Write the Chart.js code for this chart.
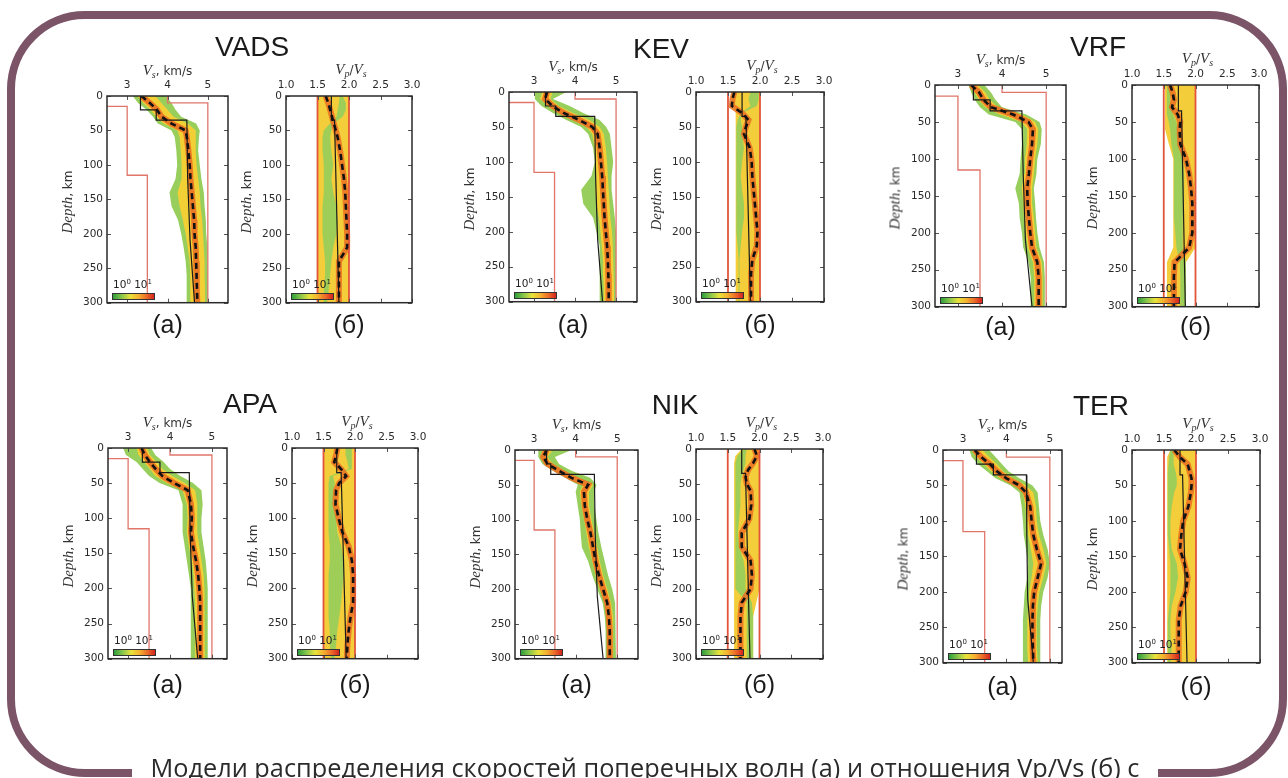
<!DOCTYPE html>
<html><head><meta charset="utf-8">
<script src="https://cdn.jsdelivr.net/npm/chart.js@4.4.1/dist/chart.umd.min.js"></script>
<style>
html,body{margin:0;padding:0;background:#fff;width:1288px;height:778px;overflow:hidden;}
#root{position:absolute;left:0;top:0;width:1288px;height:778px;}
#frame{position:absolute;left:7px;top:11px;width:1280px;height:766px;box-sizing:border-box;border:8px solid #7b5468;border-radius:78px;}
#capbox{position:absolute;left:132px;top:752px;width:1026px;height:30px;background:#fff;text-align:center;}
#caption{font-family:"Open Sans","Noto Sans",sans-serif;font-size:25.3px;color:#2b2b2b;line-height:31px;white-space:nowrap;}
.lbl{position:absolute;transform:translate(-50%,-50%);white-space:nowrap;line-height:1;color:#222;}
.title{font-family:"Liberation Sans",Arial,sans-serif;font-size:28px;color:#1a1a1a;}
.sub{font-family:"Liberation Sans",Arial,sans-serif;font-size:25px;color:#1a1a1a;}
.ax{font-family:"DejaVu Sans",sans-serif;font-size:12px;color:#333;}
.mi{font-family:"Liberation Serif",serif;font-style:italic;font-size:15px;}
.ax sub{font-family:"Liberation Serif",serif;font-style:italic;font-size:10px;vertical-align:-3px;}
.cbl{position:absolute;font-family:"DejaVu Sans",sans-serif;font-size:10.5px;color:#222;white-space:nowrap;line-height:1;}
.cbl sup{font-size:7px;vertical-align:4px;}
.cbar{position:absolute;width:43px;height:7px;border:1px solid #333;box-sizing:border-box;
 background:linear-gradient(to right,#2f9e3c 0%,#8cc84b 22%,#e9e23a 42%,#f5b22f 62%,#ec6a28 82%,#d4241c 100%);}
canvas{position:absolute;}
</style></head>
<body>
<div id="root"></div>
<div id="frame"></div>
<div id="capbox"><span id="caption">Модели распределения скоростей поперечных волн (а) и отношения Vp/Vs (б) с</span></div>
<script>
// ---------- tick labels ----------
const DEPTH_TICKS = [0, 50, 100, 150, 200, 250, 300];
const VS_TICKS = [3, 4, 5];
const RATIO_TICKS = [1.0, 1.5, 2.0, 2.5, 3.0];

// ---------- common depth grid (km) ----------
const DEPTH = [0, 10, 20, 30, 40, 50, 60, 80, 100, 120, 140, 160, 180, 200, 220, 240, 260, 280, 300];

// ---------- prior bounds ----------
const VS_MIN_DEPTH = [15, 15, 115, 115, 300];
const VS_MIN = [2.0, 3.0, 3.0, 3.5, 3.5];
const VS_MAX_DEPTH = [0, 10, 10, 300];
const VS_MAX = [4.0, 4.0, 5.0, 5.0];
const RATIO_BOUND_DEPTH = [0, 300];
const RATIO_MIN = [1.5, 1.5];
const RATIO_MAX = [2.0, 2.0];

// ---------- reference models ----------
const REF_VS_DEPTH = [0, 20, 20, 35, 35, 120, 210, 300];
const REF_RATIO_DEPTH = [0, 35, 35, 300];

// ================= VADS =================
const VADS_A_MEAN = [3.35,3.56,3.74,3.85,4.10,4.45,4.48,4.52,4.55,4.57,4.60,4.63,4.66,4.67,4.70,4.71,4.72,4.73,4.74];
const VADS_A_GLO  = [3.14,3.27,3.48,3.64,3.76,4.10,4.18,4.22,4.24,4.20,4.05,4.10,4.26,4.34,4.40,4.45,4.47,4.48,4.48];
const VADS_A_GHI  = [3.97,4.10,4.20,4.34,4.71,4.80,4.78,4.76,4.80,4.84,4.90,4.92,4.95,4.96,4.99,5.00,5.00,5.00,5.00];
const VADS_A_YLO  = [3.25,3.40,3.58,3.72,3.90,4.25,4.30,4.33,4.35,4.35,4.25,4.30,4.38,4.45,4.50,4.55,4.56,4.57,4.57];
const VADS_A_YHI  = [3.70,3.85,4.00,4.15,4.50,4.70,4.70,4.70,4.72,4.76,4.80,4.82,4.86,4.88,4.90,4.92,4.92,4.93,4.93];
const VADS_A_REF  = [3.33,3.33,3.72,3.72,4.48,4.50,4.56,4.67];
const VADS_B_MEAN = [1.63,1.67,1.70,1.73,1.76,1.79,1.82,1.86,1.89,1.92,1.94,1.95,1.96,1.97,1.97,1.84,1.84,1.84,1.84];
const VADS_B_LO   = [1.50,1.50,1.50,1.50,1.50,1.50,1.50,1.50,1.50,1.50,1.50,1.50,1.50,1.50,1.50,1.50,1.50,1.50,1.50];
const VADS_B_HI   = [2.00,2.00,2.00,2.00,2.00,2.00,2.00,2.00,2.00,2.00,2.00,2.00,2.00,2.00,2.00,2.00,2.00,2.00,2.00];
const VADS_B_GLO  = [1.85,1.84,1.82,1.80,1.70,1.60,1.58,1.58,1.60,1.60,1.60,1.58,1.58,1.58,1.60,1.62,1.62,1.60,1.60];
const VADS_B_GHI  = [1.90,1.95,1.95,1.90,1.75,1.72,1.70,1.72,1.75,1.72,1.75,1.80,1.82,1.80,1.75,1.72,1.70,1.68,1.65];
const VADS_B_REF  = [1.72,1.72,1.77,1.84];

// ================= KEV =================
const KEV_A_MEAN = [3.32,3.27,3.45,3.72,4.10,4.42,4.55,4.60,4.63,4.66,4.68,4.70,4.72,4.75,4.78,4.80,4.81,4.82,4.82];
const KEV_A_GLO  = [3.02,3.02,3.18,3.46,3.79,4.15,4.32,4.44,4.48,4.40,4.15,4.20,4.44,4.52,4.60,4.60,4.60,4.60,4.60];
const KEV_A_GHI  = [3.79,3.46,3.87,4.20,4.60,4.76,4.85,4.89,4.93,4.89,4.89,4.93,4.97,5.00,5.00,5.00,5.00,5.00,5.00];
const KEV_A_YLO  = [3.20,3.15,3.33,3.60,3.95,4.28,4.42,4.48,4.50,4.52,4.50,4.52,4.58,4.62,4.65,4.68,4.68,4.70,4.70];
const KEV_A_YHI  = [3.45,3.40,3.60,3.95,4.35,4.60,4.70,4.75,4.78,4.80,4.82,4.84,4.86,4.90,4.92,4.93,4.94,4.95,4.95];
const KEV_A_REF  = [3.28,3.28,3.53,3.53,4.48,4.50,4.55,4.67];
const KEV_B_MEAN = [1.60,1.57,1.56,1.72,1.82,1.78,1.75,1.84,1.87,1.88,1.90,1.92,1.94,1.96,1.95,1.88,1.86,1.86,1.86];
const KEV_B_LO   = [1.55,1.55,1.58,1.62,1.62,1.62,1.62,1.62,1.62,1.62,1.62,1.62,1.62,1.62,1.62,1.62,1.62,1.62,1.62];
const KEV_B_HI   = [2.00,2.00,2.00,2.00,2.00,2.00,2.00,2.00,2.00,2.00,2.00,2.00,2.00,2.00,2.00,2.00,2.00,2.00,2.00];
const KEV_B_GLO  = [1.85,1.82,1.85,1.70,1.65,1.63,1.63,1.63,1.63,1.63,1.63,1.63,1.63,1.63,1.65,1.66,1.67,1.67,1.67];
const KEV_B_GHI  = [1.98,1.98,1.95,1.72,1.70,1.72,1.72,1.75,1.72,1.70,1.72,1.75,1.75,1.72,1.70,1.68,1.68,1.68,1.68];
const KEV_B_REF  = [1.72,1.72,1.78,1.85];

// ================= VRF =================
const VRF_A_MEAN = [3.30,3.48,3.58,3.75,4.25,4.60,4.70,4.68,4.64,4.61,4.57,4.58,4.61,4.64,4.68,4.80,4.83,4.83,4.83];
const VRF_A_GLO  = [3.24,3.30,3.38,3.50,3.70,4.30,4.45,4.45,4.42,4.40,4.30,4.38,4.40,4.45,4.48,4.60,4.65,4.65,4.65];
const VRF_A_GHI  = [3.60,3.75,3.85,4.00,4.55,4.85,4.90,4.88,4.80,4.78,4.72,4.75,4.77,4.80,4.85,4.95,4.97,4.97,4.97];
const VRF_A_YLO  = [3.27,3.38,3.47,3.62,3.95,4.45,4.57,4.56,4.52,4.50,4.45,4.48,4.50,4.54,4.58,4.70,4.73,4.73,4.73];
const VRF_A_YHI  = [3.45,3.62,3.72,3.90,4.45,4.75,4.82,4.80,4.75,4.72,4.68,4.68,4.72,4.75,4.78,4.90,4.92,4.92,4.92];
const VRF_A_REF  = [3.35,3.35,3.73,3.73,4.45,4.48,4.53,4.68];
const VRF_B_MEAN = [1.60,1.64,1.66,1.63,1.72,1.76,1.75,1.76,1.85,1.90,1.93,1.95,1.95,1.95,1.90,1.67,1.66,1.66,1.66];
const VRF_B_LO   = [1.52,1.52,1.52,1.52,1.52,1.52,1.52,1.58,1.65,1.65,1.65,1.65,1.65,1.65,1.65,1.55,1.55,1.55,1.55];
const VRF_B_HI   = [2.00,2.00,2.00,2.00,2.00,2.00,2.00,2.00,2.00,2.00,2.00,2.00,2.00,2.00,2.00,1.85,1.85,1.85,1.85];
const VRF_B_GLO  = [1.55,1.55,1.55,1.55,1.55,1.58,1.60,1.62,1.66,1.66,1.66,1.66,1.66,1.68,1.70,1.75,1.76,1.76,1.76];
const VRF_B_GHI  = [1.58,1.60,1.60,1.62,1.65,1.70,1.72,1.75,1.80,1.82,1.82,1.82,1.80,1.80,1.80,1.85,1.85,1.85,1.85];
const VRF_B_REF  = [1.73,1.73,1.78,1.84];

// ================= APA =================
const APA_A_MEAN = [3.32,3.40,3.52,3.66,3.82,4.10,4.42,4.50,4.52,4.50,4.55,4.62,4.67,4.70,4.72,4.72,4.72,4.72,4.72];
const APA_A_GLO  = [2.88,2.95,3.20,3.35,3.50,3.75,4.20,4.30,4.30,4.30,4.35,4.40,4.45,4.48,4.50,4.50,4.50,4.50,4.50];
const APA_A_GHI  = [3.55,3.65,3.85,4.00,4.25,4.55,4.75,4.78,4.75,4.75,4.80,4.85,4.88,4.90,4.90,4.90,4.90,4.90,4.90];
const APA_A_YLO  = [3.20,3.25,3.38,3.52,3.65,3.92,4.30,4.40,4.42,4.40,4.45,4.52,4.56,4.58,4.60,4.60,4.60,4.60,4.60];
const APA_A_YHI  = [3.45,3.52,3.68,3.82,4.05,4.35,4.60,4.65,4.65,4.65,4.70,4.75,4.80,4.82,4.83,4.83,4.83,4.83,4.83];
const APA_A_REF  = [3.34,3.34,3.76,3.76,4.46,4.48,4.53,4.66];
const APA_B_MEAN = [1.72,1.70,1.67,1.78,1.86,1.75,1.70,1.69,1.74,1.80,1.90,1.95,1.97,1.97,1.97,1.93,1.90,1.88,1.87];
const APA_B_LO   = [1.50,1.50,1.50,1.50,1.50,1.50,1.50,1.50,1.50,1.50,1.50,1.50,1.50,1.50,1.50,1.50,1.50,1.50,1.50];
const APA_B_HI   = [2.00,2.00,2.00,2.00,2.00,2.00,2.00,2.00,2.00,2.00,2.00,2.00,2.00,2.00,2.00,2.00,2.00,2.00,2.00];
const APA_B_GLO  = [1.85,1.85,1.88,1.90,1.60,1.58,1.58,1.58,1.58,1.58,1.60,1.60,1.58,1.58,1.58,1.58,1.60,1.60,1.62];
const APA_B_GHI  = [1.95,1.95,1.95,1.95,1.65,1.68,1.66,1.65,1.70,1.72,1.78,1.82,1.82,1.80,1.78,1.75,1.72,1.70,1.68];
const APA_B_REF  = [1.71,1.71,1.78,1.86];

// ================= NIK =================
const NIK_A_MEAN = [3.30,3.22,3.32,3.60,3.90,4.30,4.20,4.22,4.28,4.36,4.42,4.48,4.56,4.66,4.76,4.80,4.82,4.82,4.82];
const NIK_A_GLO  = [3.10,3.10,3.20,3.45,3.75,4.05,4.00,4.05,4.10,4.12,4.15,4.30,4.40,4.52,4.65,4.70,4.72,4.72,4.72];
const NIK_A_GHI  = [3.90,3.50,3.60,3.90,4.35,4.50,4.45,4.45,4.50,4.55,4.62,4.70,4.78,4.88,4.95,4.97,4.97,4.97,4.97];
const NIK_A_YLO  = [3.20,3.15,3.25,3.52,3.82,4.18,4.10,4.14,4.20,4.26,4.32,4.40,4.48,4.58,4.70,4.74,4.76,4.76,4.76];
const NIK_A_YHI  = [3.45,3.32,3.45,3.72,4.05,4.42,4.32,4.32,4.38,4.45,4.52,4.58,4.66,4.76,4.85,4.90,4.90,4.90,4.90];
const NIK_A_REF  = [3.30,3.30,3.40,3.40,4.45,4.47,4.52,4.66];
const NIK_B_MEAN = [1.92,1.96,1.90,1.82,1.78,1.80,1.86,1.87,1.84,1.72,1.72,1.86,1.88,1.86,1.72,1.70,1.70,1.70,1.70];
const NIK_B_LO   = [1.72,1.62,1.60,1.60,1.60,1.60,1.60,1.60,1.60,1.60,1.60,1.60,1.60,1.60,1.60,1.60,1.60,1.60,1.60];
const NIK_B_HI   = [2.00,2.00,2.00,2.00,2.00,2.00,2.00,2.00,2.00,2.00,2.00,2.00,2.00,2.00,1.95,1.90,1.90,1.90,1.90];
const NIK_B_GLO  = [1.75,1.65,1.62,1.62,1.62,1.62,1.62,1.62,1.62,1.62,1.62,1.62,1.62,1.62,1.80,1.80,1.80,1.80,1.80];
const NIK_B_GHI  = [1.80,1.78,1.78,1.75,1.72,1.70,1.70,1.70,1.68,1.66,1.68,1.75,1.78,1.78,1.88,1.90,1.90,1.90,1.90];
const NIK_B_REF  = [1.72,1.72,1.78,1.85];

// ================= TER =================
const TER_A_MEAN = [3.27,3.42,3.62,3.78,4.00,4.30,4.45,4.55,4.58,4.62,4.70,4.80,4.72,4.64,4.61,4.60,4.60,4.61,4.62];
const TER_A_GLO  = [3.15,3.20,3.35,3.55,3.75,4.10,4.30,4.35,4.38,4.40,4.45,4.50,4.48,4.42,4.40,4.38,4.38,4.38,4.38];
const TER_A_GHI  = [3.60,3.75,3.90,4.05,4.30,4.60,4.72,4.75,4.78,4.85,4.95,5.00,4.95,4.85,4.80,4.78,4.78,4.78,4.78];
const TER_A_YLO  = [3.20,3.30,3.48,3.65,3.85,4.20,4.38,4.44,4.46,4.50,4.56,4.62,4.58,4.52,4.50,4.48,4.48,4.48,4.50];
const TER_A_YHI  = [3.45,3.60,3.78,3.92,4.15,4.45,4.62,4.68,4.70,4.75,4.85,4.92,4.85,4.76,4.72,4.70,4.70,4.70,4.72];
const TER_A_REF  = [3.31,3.31,3.70,3.70,4.46,4.47,4.49,4.62];
const TER_B_MEAN = [1.66,1.75,1.87,1.90,1.93,1.93,1.92,1.88,1.80,1.77,1.75,1.82,1.87,1.84,1.76,1.73,1.73,1.73,1.73];
const TER_B_LO   = [1.60,1.55,1.55,1.55,1.55,1.55,1.55,1.55,1.55,1.55,1.55,1.55,1.55,1.55,1.55,1.55,1.55,1.55,1.55];
const TER_B_HI   = [2.00,2.00,2.00,2.00,2.00,2.00,2.00,2.00,2.00,2.00,2.00,2.00,2.00,2.00,2.00,2.00,2.00,2.00,2.00];
const TER_B_GLO  = [1.60,1.58,1.57,1.56,1.56,1.56,1.56,1.56,1.56,1.56,1.58,1.60,1.60,1.60,1.58,1.56,1.56,1.56,1.56];
const TER_B_GHI  = [1.65,1.65,1.65,1.68,1.70,1.70,1.66,1.62,1.60,1.60,1.62,1.70,1.72,1.68,1.62,1.60,1.60,1.62,1.60];
const TER_B_REF  = [1.75,1.75,1.79,1.86];

// ---------- layout ----------
const STATIONS = [
 {name:'VADS', tx:252, ty:47,  subY:324,
  a:{left:107,right:228,top:96,bottom:307,xMin:2.5,xMax:5.5, mean:VADS_A_MEAN,gLo:VADS_A_GLO,gHi:VADS_A_GHI,yLo:VADS_A_YLO,yHi:VADS_A_YHI,ref:VADS_A_REF},
  b:{left:286,right:412,top:96,bottom:307, mean:VADS_B_MEAN,lo:VADS_B_LO,hi:VADS_B_HI,gLo:VADS_B_GLO,gHi:VADS_B_GHI,ref:VADS_B_REF}},
 {name:'KEV', tx:661, ty:49, subY:324,
  a:{left:509,right:637,top:92,bottom:306,xMin:2.39,xMax:5.51, mean:KEV_A_MEAN,gLo:KEV_A_GLO,gHi:KEV_A_GHI,yLo:KEV_A_YLO,yHi:KEV_A_YHI,ref:KEV_A_REF},
  b:{left:696,right:824,top:92,bottom:306, mean:KEV_B_MEAN,lo:KEV_B_LO,hi:KEV_B_HI,gLo:KEV_B_GLO,gHi:KEV_B_GHI,ref:KEV_B_REF}},
 {name:'VRF', tx:1098, ty:47, subY:326,
  a:{left:935,right:1066,top:85,bottom:311,xMin:2.48,xMax:5.45, mean:VRF_A_MEAN,gLo:VRF_A_GLO,gHi:VRF_A_GHI,yLo:VRF_A_YLO,yHi:VRF_A_YHI,ref:VRF_A_REF},
  b:{left:1132,right:1259,top:85,bottom:311, mean:VRF_B_MEAN,lo:VRF_B_LO,hi:VRF_B_HI,gLo:VRF_B_GLO,gHi:VRF_B_GHI,ref:VRF_B_REF}},
 {name:'APA', tx:250, ty:404, subY:684,
  a:{left:108,right:227,top:448,bottom:663,xMin:2.52,xMax:5.36, mean:APA_A_MEAN,gLo:APA_A_GLO,gHi:APA_A_GHI,yLo:APA_A_YLO,yHi:APA_A_YHI,ref:APA_A_REF},
  b:{left:292,right:418,top:448,bottom:663, mean:APA_B_MEAN,lo:APA_B_LO,hi:APA_B_HI,gLo:APA_B_GLO,gHi:APA_B_GHI,ref:APA_B_REF}},
 {name:'NIK', tx:675, ty:405, subY:684,
  a:{left:515,right:638,top:450,bottom:663,xMin:2.54,xMax:5.5, mean:NIK_A_MEAN,gLo:NIK_A_GLO,gHi:NIK_A_GHI,yLo:NIK_A_YLO,yHi:NIK_A_YHI,ref:NIK_A_REF},
  b:{left:696,right:823,top:449,bottom:663, mean:NIK_B_MEAN,lo:NIK_B_LO,hi:NIK_B_HI,gLo:NIK_B_GLO,gHi:NIK_B_GHI,ref:NIK_B_REF}},
 {name:'TER', tx:1101, ty:406, subY:686,
  a:{left:943,right:1062,top:450,bottom:667,xMin:2.54,xMax:5.28, mean:TER_A_MEAN,gLo:TER_A_GLO,gHi:TER_A_GHI,yLo:TER_A_YLO,yHi:TER_A_YHI,ref:TER_A_REF},
  b:{left:1132,right:1260,top:450,bottom:667, mean:TER_B_MEAN,lo:TER_B_LO,hi:TER_B_HI,gLo:TER_B_GLO,gHi:TER_B_GHI,ref:TER_B_REF}}
];

const root = document.getElementById('root');
const AXW = 56, AXH = 40, PR = 14, PB = 6;

function pts(depths, vals){ return vals.map((v,i)=>({x:v, y:depths[i]})); }
function lbl(html, x, y, cls, rot){
  const d = document.createElement('div');
  d.className = 'lbl ' + cls; d.innerHTML = html;
  d.style.left = x + 'px'; d.style.top = y + 'px';
  if (rot) d.style.transform = 'translate(-50%,-50%) rotate(-90deg)';
  root.appendChild(d);
}
function colorbar(p){
  const c = document.createElement('div'); c.className = 'cbl';
  c.innerHTML = '10<sup>0</sup>&nbsp;10<sup>1</sup>';
  c.style.left = (p.left + 6) + 'px'; c.style.top = (p.bottom - 28) + 'px';
  root.appendChild(c);
  const b = document.createElement('div'); b.className = 'cbar';
  b.style.left = (p.left + 5) + 'px'; b.style.top = (p.bottom - 14) + 'px';
  root.appendChild(b);
}

const framePlugin = {
  id: 'frame',
  afterDatasetsDraw(chart){
    const {ctx, chartArea:a, scales:{x, y}} = chart;
    ctx.save();
    ctx.strokeStyle = '#555'; ctx.lineWidth = 1;
    ctx.beginPath();
    x.ticks.forEach(t => { const px = Math.round(x.getPixelForValue(t.value)) + 0.5;
      ctx.moveTo(px, a.top); ctx.lineTo(px, a.top + 4); ctx.moveTo(px, a.bottom); ctx.lineTo(px, a.bottom - 4); });
    y.ticks.forEach(t => { const py = Math.round(y.getPixelForValue(t.value)) + 0.5;
      ctx.moveTo(a.left, py); ctx.lineTo(a.left + 4, py); ctx.moveTo(a.right, py); ctx.lineTo(a.right - 4, py); });
    ctx.stroke();
    ctx.strokeStyle = '#2a2a2a'; ctx.lineWidth = 1.5;
    ctx.strokeRect(a.left, a.top, a.right - a.left, a.bottom - a.top);
    ctx.restore();
  }
};

function lineDs(data, color, width, extra){
  return Object.assign({data, borderColor:color, borderWidth:width, pointRadius:0, tension:0, fill:false}, extra || {});
}

function makeChart(p, kind){
  const w = p.right - p.left, h = p.bottom - p.top;
  const cv = document.createElement('canvas');
  cv.width = w + AXW + PR; cv.height = h + AXH + PB;
  cv.style.left = (p.left - AXW) + 'px'; cv.style.top = (p.top - AXH) + 'px';
  cv.style.width = cv.width + 'px'; cv.style.height = cv.height + 'px';
  root.appendChild(cv);
  let datasets;
  if (kind === 'a') {
    datasets = [
      lineDs(pts(DEPTH, p.mean), '#111', 2.6, {borderDash:[6,4]}),
      lineDs(pts(REF_VS_DEPTH, p.ref), '#1a1a1a', 1.2),
      lineDs(pts(VS_MAX_DEPTH, VS_MAX), '#e0756a', 1.3),
      lineDs(pts(VS_MIN_DEPTH, VS_MIN), '#e0756a', 1.3),
      lineDs(pts(DEPTH, p.mean), 'rgba(234,112,34,0.9)', 6),
      lineDs(pts(DEPTH, p.yHi), 'rgba(0,0,0,0)', 0, {fill:'+1', backgroundColor:'#f3cf36'}),
      lineDs(pts(DEPTH, p.yLo), 'rgba(0,0,0,0)', 0),
      lineDs(pts(DEPTH, p.gHi), 'rgba(0,0,0,0)', 0, {fill:'+1', backgroundColor:'#98cf5c'}),
      lineDs(pts(DEPTH, p.gLo), 'rgba(0,0,0,0)', 0)
    ];
  } else {
    datasets = [
      lineDs(pts(DEPTH, p.mean), '#111', 2.6, {borderDash:[6,4]}),
      lineDs(pts(REF_RATIO_DEPTH, p.ref), '#1a1a1a', 1.2),
      lineDs(pts(RATIO_BOUND_DEPTH, RATIO_MIN), '#e2553a', 1.8),
      lineDs(pts(RATIO_BOUND_DEPTH, RATIO_MAX), '#e2553a', 1.8),
      lineDs(pts(DEPTH, p.mean), 'rgba(234,112,34,0.85)', 6),
      lineDs(pts(DEPTH, p.gHi), 'rgba(0,0,0,0)', 0, {fill:'+1', backgroundColor:'rgba(150,206,92,0.9)'}),
      lineDs(pts(DEPTH, p.gLo), 'rgba(0,0,0,0)', 0),
      lineDs(pts(DEPTH, p.hi), 'rgba(0,0,0,0)', 0, {fill:'+1', backgroundColor:'#f3cd3a'}),
      lineDs(pts(DEPTH, p.lo), 'rgba(0,0,0,0)', 0)
    ];
  }
  const xt = kind === 'a' ? VS_TICKS : RATIO_TICKS;
  new Chart(cv, {
    type: 'line',
    data: {datasets},
    plugins: [framePlugin],
    options: {
      indexAxis: 'y',
      responsive: false, animation: false, devicePixelRatio: 1,
      layout: {padding: {left:0, top:0, right:PR, bottom:PB}},
      plugins: {legend:{display:false}, tooltip:{enabled:false}},
      scales: {
        x: {type:'linear', position:'top', min: kind === 'a' ? p.xMin : 1.0, max: kind === 'a' ? p.xMax : 3.0,
            grid:{display:false, drawTicks:false}, border:{display:false},
            afterBuildTicks: s => { s.ticks = xt.map(v => ({value:v})); },
            afterFit: s => { s.height = AXH; },
            ticks:{autoSkip:false, maxRotation:0, padding:4, color:'#2a2a2a',
                   font:{family:'DejaVu Sans', size:10.5},
                   callback: v => kind === 'a' ? String(v) : Number(v).toFixed(1)}},
        y: {type:'linear', reverse:true, min:0, max:300,
            grid:{display:false, drawTicks:false}, border:{display:false},
            afterBuildTicks: s => { s.ticks = DEPTH_TICKS.map(v => ({value:v})); },
            afterFit: s => { s.width = AXW; },
            ticks:{autoSkip:false, padding:4, color:'#2a2a2a', font:{family:'DejaVu Sans', size:10.5}}}
      }
    }
  });
  // axis titles
  const cx = (p.left + p.right) / 2, cy = (p.top + p.bottom) / 2;
  if (kind === 'a') lbl('<span class="mi">V</span><sub>s</sub>, km/s', cx, p.top - 25, 'ax');
  else lbl('<span class="mi">V</span><sub>p</sub>/<span class="mi">V</span><sub>s</sub>', cx + 2, p.top - 26, 'ax');
  lbl('<span class="mi">Depth</span>, km', p.left - 40, cy, 'ax', true);
  colorbar(p);
}

STATIONS.forEach(s => {
  makeChart(s.a, 'a');
  makeChart(s.b, 'b');
  lbl(s.name, s.tx, s.ty, 'title');
  lbl('(a)', (s.a.left + s.a.right) / 2, s.subY, 'sub');
  lbl('(б)', (s.b.left + s.b.right) / 2, s.subY, 'sub');
});
</script>
</body></html>
